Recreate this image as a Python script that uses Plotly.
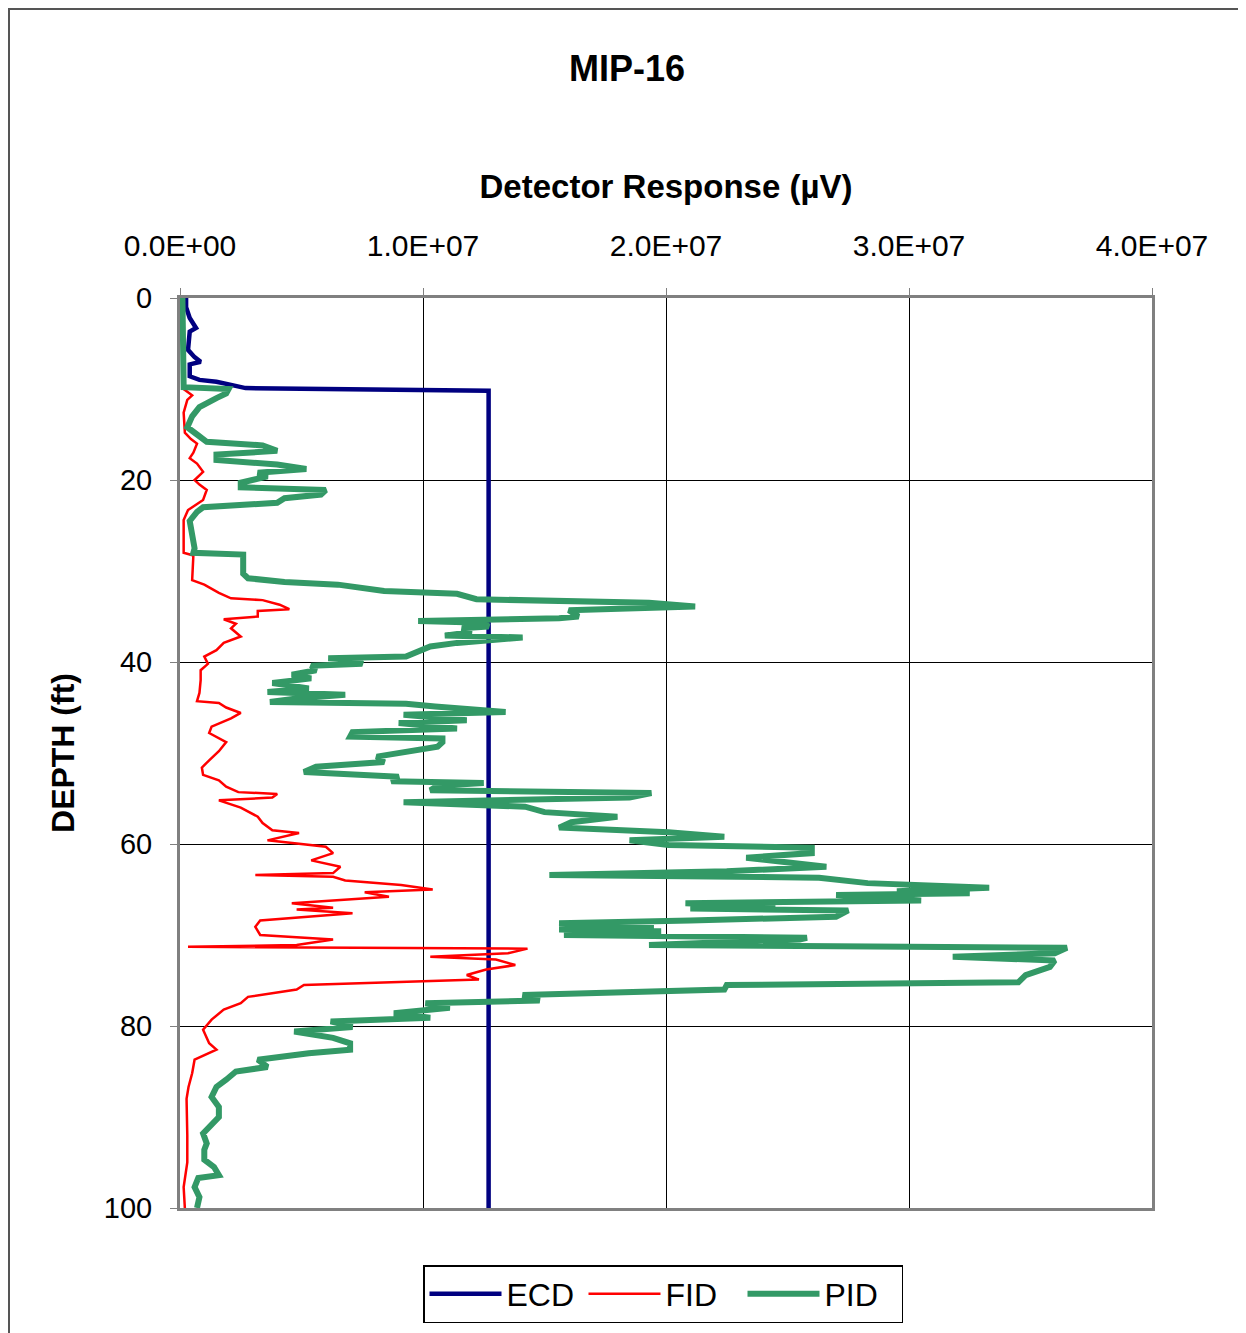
import plotly.graph_objects as go

# ---------------- data (values in units of 1e6 microvolts) ----------------
ecd_depth = [0, 1.0, 2.2, 3.0, 3.3, 3.7, 5.7, 6.5, 7.0, 7.3, 8.6, 9.0, 9.2, 9.55, 9.9, 10.2, 100]
ecd_value = [0.25, 0.25, 0.4, 0.6, 0.66, 0.4, 0.33, 0.6, 0.85, 0.4, 0.4, 0.8, 1.5, 2.1, 2.7, 12.7, 12.7]

fid_depth = [0, 5, 10.0, 10.7, 11.2, 12.6, 14.8, 15.5, 16.0, 17.0, 17.6, 18.2, 19.1, 20.0, 20.5,
             21.1, 22.2, 22.8, 23.3, 24.4, 28.0, 28.3, 31.0, 31.5, 32.4, 33.0, 33.2, 33.7, 34.2,
             34.4, 35.0, 35.3, 35.8, 36.3, 37.2, 37.9, 38.7, 39.4, 40.2, 40.9, 42.0, 43.4, 44.3,
             44.5, 45.0, 45.6, 46.2, 47.1, 47.8, 48.8, 49.8, 50.8, 51.6, 52.4, 53.0, 53.7, 54.3,
             54.5, 54.9, 55.2, 56.0, 57.0, 57.7, 58.5, 58.8, 59.6, 60.3, 61.0, 61.8, 62.5, 63.2,
             63.4, 63.6, 64.0, 64.5, 65.0, 65.3, 65.8, 66.5, 67.0, 67.2, 67.6, 68.4, 69.1, 70.0,
             70.5, 71.1, 71.3, 71.5, 72.0, 72.4, 72.7, 73.3, 73.8, 74.4, 74.9, 75.5, 76.0, 76.8,
             77.5, 78.2, 79.3, 80.4, 81.9, 82.6, 83.7, 85.2, 86.7, 88.0, 92.0, 95.0, 97.7, 100]
fid_value = [0.1, 0.1, 0.15, 0.5, 0.3, 0.15, 0.2, 0.45, 0.7, 0.55, 0.4, 0.7, 0.95, 0.6, 0.8,
             1.1, 0.95, 0.6, 0.33, 0.15, 0.15, 0.55, 0.5, 1.0, 1.6, 2.1, 3.4, 4.1, 4.5,
             3.2, 3.2, 1.8, 2.3, 2.1, 2.5, 1.8, 1.5, 1.0, 1.15, 0.85, 0.85, 0.8, 0.7,
             1.6, 1.9, 2.5, 2.1, 1.3, 1.2, 1.9, 1.6, 1.2, 0.9, 0.95, 1.6, 1.9, 2.4,
             4.0, 3.8, 1.6, 2.5, 3.2, 3.4, 3.8, 4.9, 3.6, 6.0, 6.3, 5.4, 6.6, 6.3,
             3.1, 6.3, 6.8, 9.1, 10.4, 7.6, 8.6, 4.6, 6.3, 4.8, 7.1, 3.3, 3.1, 3.3,
             6.3, 4.8, 0.33, 14.3, 13.5, 10.3, 13.0, 13.8, 12.6, 11.8, 12.3, 5.1, 4.8, 2.8,
             2.5, 1.8, 1.3, 0.95, 1.2, 1.5, 0.6, 0.5, 0.35, 0.27, 0.3, 0.3, 0.15, 0.2]

pid_depth = [0, 5, 9.8, 10.0, 10.5, 11.0, 11.5, 12.0, 13.0, 14.2, 15.0, 15.8, 16.2, 16.8, 17.2,
             17.8, 18.3, 18.8, 19.2, 19.6, 20.3, 20.8, 21.1, 21.6, 22.0, 22.5, 23.0, 23.5, 24.5,
             26.0, 27.5, 28.0, 28.2, 30.3, 30.8, 31.2, 31.5, 32.2, 32.5, 33.1, 33.3, 33.5, 33.9,
             34.3, 35.0, 35.2, 35.5, 35.7, 36.1, 36.3, 36.7, 37.1, 37.3, 37.6, 37.9, 38.3, 38.9,
             39.4, 39.6, 39.8, 40.2, 40.4, 40.9, 41.4, 41.8, 42.3, 42.9, 43.3, 43.6, 44.0, 44.4,
             44.6, 44.9, 45.5, 45.8, 46.4, 46.7, 47.3, 47.7, 48.2, 48.4, 48.8, 49.3, 49.9, 50.4,
             51.0, 51.5, 52.1, 52.6, 53.1, 53.3, 53.6, 54.1, 54.4, 54.9, 55.4, 55.9, 56.5, 57.0,
             57.6, 58.2, 58.7, 59.2, 59.6, 60.1, 60.4, 61.0, 61.5, 62.1, 62.5, 63.0, 63.4, 63.7,
             64.3, 64.8, 65.2, 65.4, 65.6, 66.2, 66.5, 66.9, 67.1, 67.3, 68.0, 68.4, 68.7, 69.1,
             69.4, 69.6, 70.0, 70.3, 70.5, 71.1, 71.4, 72.0, 72.4, 72.8, 73.5, 74.4, 75.2, 75.5,
             76.0, 76.6, 77.2, 77.5, 78.0, 78.6, 79.1, 79.5, 80.1, 80.6, 81.3, 81.9, 82.6, 83.0,
             83.7, 84.5, 85.0, 85.9, 86.7, 87.8, 88.9, 90.0, 91.1, 91.8, 92.9, 93.6, 94.7, 95.5,
             96.4, 96.7, 97.7, 98.8, 100]
pid_value = [0.1, 0.15, 0.15, 2.0, 1.9, 1.5, 1.2, 0.8, 0.5, 0.3, 0.7, 1.1, 3.4, 4.0, 1.5,
             1.5, 4.0, 5.2, 3.2, 3.6, 2.5, 2.5, 6.0, 5.8, 4.3, 4.0, 0.95, 0.7, 0.4,
             0.5, 0.6, 0.55, 2.6, 2.6, 2.8, 4.3, 6.5, 8.4, 11.4, 12.2, 15.3, 19.3, 21.2,
             16.0, 16.4, 15.6, 9.8, 12.5, 12.7, 11.6, 12.0, 10.9, 14.1, 12.7, 11.4, 10.3, 9.7,
             9.3, 6.1, 7.3, 7.5, 5.4, 5.6, 4.6, 5.4, 3.8, 5.3, 3.6, 6.8, 4.8, 3.7,
             9.3, 10.5, 13.4, 9.2, 11.8, 9.0, 11.4, 7.1, 7.0, 10.8, 10.8, 10.6, 9.0, 8.1,
             8.4, 5.6, 5.1, 9.0, 8.7, 12.5, 10.6, 10.3, 19.4, 18.5, 9.2, 14.2, 15.0, 18.0,
             16.1, 15.6, 20.1, 22.4, 18.5, 20.1, 26.0, 26.0, 23.3, 25.0, 26.6, 22.5, 15.2, 26.3,
             28.3, 33.3, 29.5, 32.5, 27.0, 30.5, 20.8, 24.5, 21.0, 27.5, 27.0, 21.0, 15.6, 19.5,
             15.6, 19.8, 15.8, 25.8, 25.5, 19.3, 36.5, 36.0, 31.8, 36.0, 35.8, 34.8, 34.5, 22.5,
             22.4, 14.1, 14.8, 10.1, 11.1, 8.8, 10.3, 6.2, 7.1, 4.7, 6.3, 7.0, 7.0, 5.3,
             3.2, 3.6, 2.3, 1.9, 1.5, 1.3, 1.6, 1.6, 1.15, 0.95, 1.1, 1.0, 1.0, 1.4,
             1.6, 0.75, 0.6, 0.8, 0.7]

x_tick_vals = [0, 1e7, 2e7, 3e7, 4e7]
x_tick_text = ["0.0E+00", "1.0E+07", "2.0E+07", "3.0E+07", "4.0E+07"]
y_tick_vals = [0, 20, 40, 60, 80, 100]

SCALE = 1e6
FONT = "Liberation Sans, Arial, sans-serif"

# plot-area geometry in figure pixels (page body adds an 8px offset)
L, T, R, B = 172, 290, 102, 133
W, H = 1246, 1333
PW, PH = W - L - R, H - T - B

fig = go.Figure()
fig.add_trace(go.Scatter(x=[v * SCALE for v in ecd_value], y=ecd_depth, mode="lines", name="ECD",
                         line=dict(color="#000080", width=4.5)))
fig.add_trace(go.Scatter(x=[v * SCALE for v in fid_value], y=fid_depth, mode="lines", name="FID",
                         line=dict(color="#FF0000", width=2.5)))
fig.add_trace(go.Scatter(x=[v * SCALE for v in pid_value], y=pid_depth, mode="lines", name="PID",
                         line=dict(color="#339966", width=6)))

fig.update_layout(
    width=W, height=H,
    margin=dict(l=L, r=R, t=T, b=B),
    paper_bgcolor="white", plot_bgcolor="white",
    font=dict(family=FONT, color="black"),
    title=dict(text="<b>MIP-16</b>", x=(627 - 8) / W, xanchor="center", y=1 - 60 / H, yanchor="middle",
               font=dict(size=36, family=FONT, color="black")),
    xaxis=dict(side="top", range=[0, 4e7], tickvals=x_tick_vals, ticktext=x_tick_text,
               showgrid=True, gridcolor="black", gridwidth=1,
               showline=True, linecolor="#808080", linewidth=3, mirror=True,
               ticks="outside", ticklen=7, tickcolor="#808080", tickwidth=1,
               tickfont=dict(size=30, family=FONT), ticklabelstandoff=20,
               zeroline=False,
               title=dict(text="<b>Detector Response (µV)</b>", font=dict(size=33, family=FONT),
                          standoff=21)),
    yaxis=dict(range=[100, 0], tickvals=y_tick_vals,
               showgrid=True, gridcolor="black", gridwidth=1,
               showline=True, linecolor="#808080", linewidth=3, mirror=True,
               ticks="outside", ticklen=7, tickcolor="#808080", tickwidth=1,
               tickfont=dict(size=29, family=FONT), ticklabelstandoff=12,
               zeroline=False,
               title=dict(text="<b>DEPTH (ft)</b>", font=dict(size=32, family=FONT), standoff=20)),
    legend=dict(orientation="h", x=(663 - 8 - L) / PW, xanchor="center",
                y=(H - B - (1294 - 8)) / PH, yanchor="middle",
                bordercolor="black", borderwidth=1.5, bgcolor="white",
                font=dict(size=32, family=FONT), itemwidth=72,
                entrywidth=72, entrywidthmode="pixels"),
    showlegend=True,
)

# outer frame of the chart
fig.add_shape(type="rect", xref="paper", yref="paper",
              x0=(1 - L) / PW, x1=(1233 - L) / PW,
              y0=(H - B - 1345) / PH, y1=1 + (T - 1) / PH,
              line=dict(color="#555555", width=2), fillcolor="rgba(0,0,0,0)", layer="below")

fig.write_html("out.html")
